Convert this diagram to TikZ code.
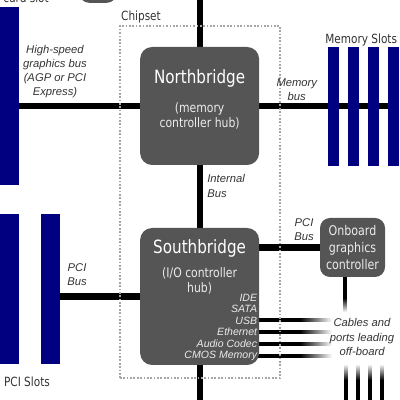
\documentclass[tikz,border=0pt]{standalone}
\usepackage{fontspec}
\setmainfont{Liberation Sans}
\newfontfamily\chipfont[FakeStretch=0.83]{DejaVu Sans}
\usetikzlibrary{positioning, backgrounds}

\definecolor{slotblue}{RGB}{0,0,128}
\definecolor{chipgray}{RGB}{85,85,85}
\definecolor{labelgray}{RGB}{51,51,51}

\tikzset{
  chip/.style={fill=chipgray, rounded corners=0.3cm, inner sep=0pt},
  chiptitle/.style={text=white, font=\chipfont\fontsize{13}{15}\selectfont, inner sep=0pt},
  chipsub/.style={text=white!92!black, font=\chipfont\fontsize{9.3}{10.5}\selectfont, align=center, inner sep=0pt},
  chipport/.style={text=white!92!black, font=\fontsize{7.5}{8.2}\selectfont\itshape, align=right, inner sep=0pt},
  slot/.style={fill=slotblue, inner sep=0pt},
  bus/.style={line width=4.3pt},
  wire/.style={line width=2.6pt},
  buslabel/.style={text=labelgray, font=\fontsize{8}{10}\selectfont\itshape, align=center, inner sep=0pt},
  boardlabel/.style={text=labelgray, font=\chipfont\fontsize{9}{11}\selectfont, inner sep=0pt}
}

\begin{document}
\begin{tikzpicture}
    \useasboundingbox (0,0) rectangle (10,10);
    \clip (0,0) rectangle (10,10);

    % Chipset
    \draw[gray!70, line width=0.8pt, dash pattern=on 1.2pt off 1.2pt] (3.0,0.55) rectangle (7.0,9.35);
    \node[boardlabel] (chipset) at (3.525,9.575) {Chipset};

    % Northbridge
    \node[chip, minimum width=2.975cm, minimum height=2.95cm] (nb) at (4.99,7.35) {};
    \node[chiptitle, anchor=base] (nbname) at ([yshift=-0.925cm]nb.north) {Northbridge};
    \node[chipsub, anchor=north] (nbsub) at ([yshift=-1.4cm]nb.north) {(memory\\controller hub)};

    % Southbridge
    \node[chip, minimum width=2.975cm, minimum height=3.425cm] (sb) at (4.99,2.5875) {};
    \node[chiptitle, anchor=base] (sbname) at ([yshift=-0.65cm]sb.north) {Southbridge};
    \node[chipsub, anchor=north] (sbsub) at ([yshift=-1.0cm]sb.north) {(I/O controller\\hub)};
    \node[chipport, anchor=south east] (sbports) at ([xshift=-0.05cm, yshift=0.1cm]sb.south east)
        {IDE\\SATA\\USB\\Ethernet\\Audio Codec\\CMOS Memory};

    % Onboard graphics
    \node[chip, rounded corners=0.25cm, minimum width=1.625cm, minimum height=1.475cm] (ogc) at (8.8125,3.8125) {};
    \node[chipsub, font=\chipfont\fontsize{9.5}{12.4}\selectfont] (ogcname) at (ogc.center) {Onboard\\graphics\\controller};

    % Box cut off at the top
    \node[chip, minimum width=1cm, minimum height=1cm] (clock) at (2.45,10.425) {};

    % Slots
    \node[slot, minimum width=0.475cm, minimum height=4.45cm] (agp) at (0.2375,7.6) {};
    \node[slot, minimum width=0.475cm, minimum height=3.75cm] (pcia) at (0.2375,2.775) {};
    \node[slot, minimum width=0.475cm, minimum height=3.75cm, right=0.525cm of pcia] (pcib) {};
    \foreach \i/\x in {1/8.3375, 2/8.8375, 3/9.3375, 4/9.8375}
        \node[slot, minimum width=0.275cm, minimum height=2.975cm] (mem\i) at (\x,7.3375) {};

    % Buses
    \coordinate (top) at (5,10.3);
    \coordinate (bottom) at (5,-0.3);
    \begin{scope}[on background layer]
        \draw[bus] (nb.north) -- (nb.north |- top);
        \draw[bus] (agp.east |- nb.west) -- (nb.west);
        \draw[bus] (nb.east) -- (mem4.east |- nb.east);
        \draw[bus] (nb.south) -- (sb.north);
        \draw[bus] (sb.south) -- (sb.south |- bottom);
        \draw[bus] (pcib.east |- sb.west) -- (sb.west);
        \draw[bus] (sb.east |- ogc.west) -- (ogc.west);

        % Cables leading off-board
        \foreach \y [count=\k] in {2.0,1.7,1.4,1.1} {
            \coordinate (port\k) at (7.5,\y);
            \draw[wire] ([xshift=-0.2cm]sb.east |- port\k) -- (port\k);
            \shade[left color=black, right color=white] ([yshift=-1.3pt]port\k) rectangle ++(0.8cm,2.6pt);
        }
        \coordinate (ogcout) at (8.625,2.55);
        \draw[wire] (ogc.south -| ogcout) -- (ogcout);
        \shade[top color=black, bottom color=white] ([xshift=-1.3pt]ogcout) rectangle ++(2.6pt,-0.35cm);
        \foreach \x [count=\k] in {8.65,8.95,9.25,9.55} {
            \coordinate (cable\k) at (\x,0.5);
            \draw[wire] (cable\k) -- ++(0,-0.8);
            \shade[top color=white, bottom color=black] ([xshift=-1.3pt]cable\k) rectangle ++(2.6pt,0.4cm);
        }
    \end{scope}

    % Labels
    \node[buslabel] (agpbus) at (1.375,8.21) {High-speed\\graphics bus\\(AGP or PCI\\Express)};
    \node[buslabel] (membus) at (7.42,7.75) {Memory\\bus};
    \node[buslabel, align=left, anchor=west] (intbus) at (5.175,5.35) {Internal\\Bus};
    \node[buslabel] (pcibus) at (1.925,3.125) {PCI\\Bus};
    \node[buslabel] (ogcbus) at (7.6,4.25) {PCI\\Bus};
    \node[buslabel] (cables) at (9.05,1.575) {Cables and\\ports leading\\off-board};
    \node[boardlabel] (memslots) at (9.03,9.0) {Memory Slots};
    \node[boardlabel] (pcislots) at (0.675,0.45) {PCI Slots};
    \node[boardlabel, anchor=base west] (agpslot) at (0.08,9.93) {card slot};
\end{tikzpicture}
\end{document}
